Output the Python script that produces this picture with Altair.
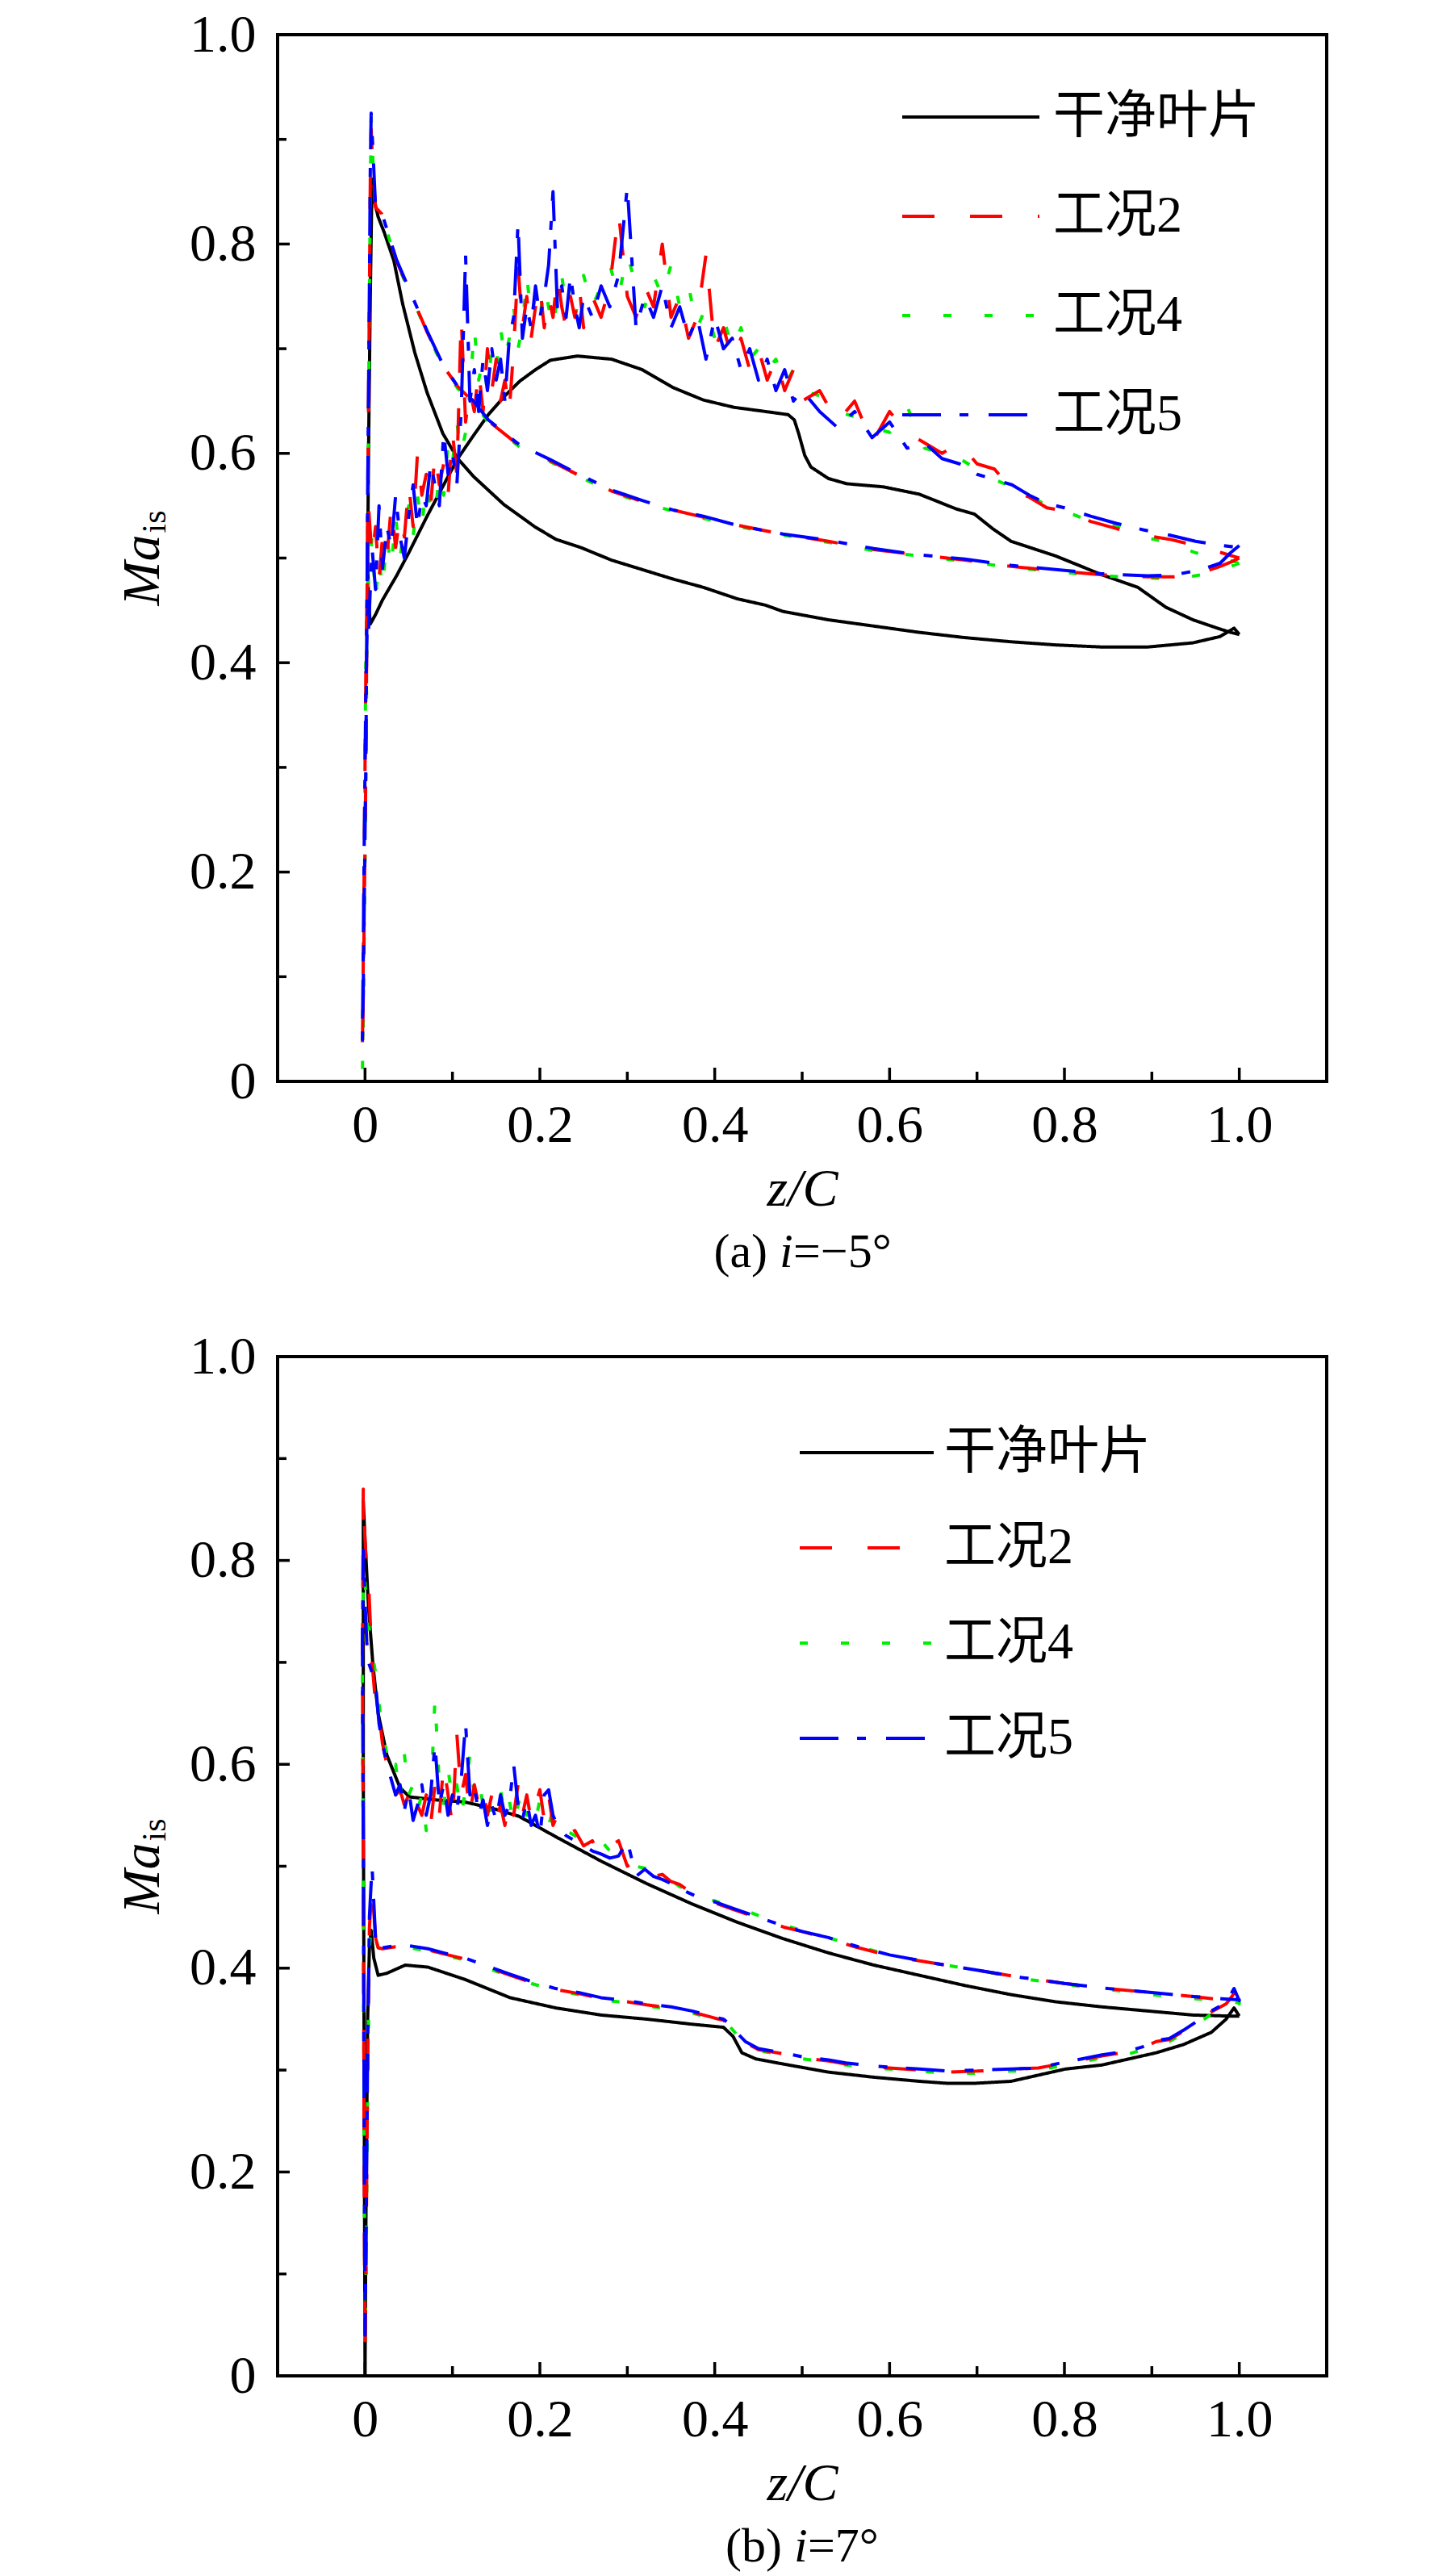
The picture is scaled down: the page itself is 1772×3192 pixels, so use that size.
import altair as alt
import pandas as pd

SERIES = ["干净叶片", "工况2", "工况4", "工况5"]
COLORS = ["#000000", "#ff0000", "#00ee00", "#0000ff"]
DASHES = [[1, 0], [40, 44], [10, 41], [48, 23, 11, 25]]
DRAW_ORDER = ["干净叶片", "工况4", "工况2", "工况5"]

X_MAJOR = [0.0, 0.2, 0.4, 0.6, 0.8, 1.0]
X_MINOR = [0.1, 0.3, 0.5, 0.7, 0.9]
Y_MAJOR = [0.0, 0.2, 0.4, 0.6, 0.8, 1.0]
Y_MINOR = [0.1, 0.3, 0.5, 0.7, 0.9]

# ---------------- panel (a) i = -5 deg ----------------
A_BLACK_X = [1.0, 0.994, 0.978, 0.947, 0.895, 0.843, 0.79, 0.739, 0.686, 0.634,
             0.582, 0.53, 0.478, 0.458, 0.426, 0.387, 0.352, 0.317, 0.282, 0.247,
             0.218, 0.194, 0.159, 0.124, 0.106, 0.089, 0.071, 0.057, 0.043, 0.033,
             0.022, 0.015, 0.011, 0.008, 0.006, 0.004, 0.003, 0.004, 0.006, 0.012,
             0.02, 0.036, 0.05, 0.071, 0.09, 0.106, 0.124, 0.141, 0.16, 0.177,
             0.195, 0.212, 0.243, 0.282, 0.317, 0.352, 0.387, 0.422, 0.458, 0.484,
             0.491, 0.496, 0.503, 0.51, 0.53, 0.551, 0.593, 0.634, 0.676, 0.697,
             0.718, 0.739, 0.79, 0.843, 0.884, 0.916, 0.947, 0.975, 0.99, 1.0]
A_BLACK_Y = [0.427, 0.433, 0.425, 0.419, 0.415, 0.415, 0.417, 0.420, 0.424, 0.429,
             0.435, 0.441, 0.449, 0.455, 0.461, 0.472, 0.480, 0.489, 0.498, 0.510,
             0.518, 0.530, 0.551, 0.578, 0.595, 0.619, 0.658, 0.696, 0.743, 0.784,
             0.811, 0.826, 0.840, 0.862, 0.75, 0.60, 0.498, 0.46, 0.437, 0.446,
             0.46, 0.483, 0.505, 0.54, 0.57, 0.595, 0.617, 0.637, 0.655, 0.669,
             0.680, 0.689, 0.693, 0.690, 0.680, 0.663, 0.651, 0.644, 0.640, 0.637,
             0.632, 0.619, 0.598, 0.587, 0.576, 0.571, 0.568, 0.561, 0.547, 0.542,
             0.528, 0.516, 0.502, 0.484, 0.472, 0.453, 0.441, 0.433, 0.429, 0.427]

A_SMOOTH_X = [1.0, 0.99, 0.978, 0.957, 0.926, 0.895, 0.843, 0.79, 0.739, 0.686,
              0.634, 0.582, 0.53, 0.478, 0.458, 0.422, 0.387, 0.352, 0.317, 0.282,
              0.247, 0.212, 0.177, 0.141, 0.124, 0.106, 0.089, 0.071, 0.054, 0.036,
              0.019, 0.012]
A_SMOOTH_RED = [0.500, 0.496, 0.492, 0.486, 0.482, 0.482, 0.484, 0.488, 0.492, 0.498,
                0.503, 0.508, 0.516, 0.523, 0.526, 0.532, 0.539, 0.546, 0.554, 0.564,
                0.578, 0.593, 0.607, 0.631, 0.649, 0.664, 0.684, 0.716, 0.749, 0.784,
                0.829, 0.835]
A_SMOOTH_GREEN = [0.495, 0.492, 0.488, 0.484, 0.480, 0.481, 0.483, 0.487, 0.491, 0.497,
                  0.502, 0.507, 0.515, 0.522, 0.525, 0.531, 0.538, 0.545, 0.553, 0.563,
                  0.577, 0.592, 0.606, 0.630, 0.648, 0.662, 0.683, 0.715, 0.748, 0.783,
                  0.828, 0.834]
A_SMOOTH_BLUE = [0.512, 0.505, 0.495, 0.489, 0.484, 0.483, 0.485, 0.489, 0.493, 0.499,
                 0.503, 0.509, 0.517, 0.523, 0.526, 0.532, 0.540, 0.546, 0.555, 0.565,
                 0.579, 0.594, 0.608, 0.632, 0.650, 0.664, 0.685, 0.717, 0.750, 0.785,
                 0.830, 0.836]

A_LE_X = [0.009, 0.007, 0.006, 0.005, 0.003, 0.001, -0.002, -0.003, -0.001, 0.001, 0.003]
A_LE_RED = [0.87, 0.91, 0.86, 0.75, 0.55, 0.30, 0.08, 0.03, 0.20, 0.40, 0.50]
A_LE_GREEN = [0.88, 0.92, 0.85, 0.74, 0.53, 0.28, 0.06, 0.01, 0.18, 0.42, 0.47]
A_LE_BLUE = [0.89, 0.925, 0.87, 0.76, 0.56, 0.31, 0.09, 0.04, 0.22, 0.38, 0.45]

A_NOISY_X = [0.004, 0.008, 0.012, 0.016, 0.020, 0.025, 0.030, 0.035, 0.040, 0.045,
             0.050, 0.055, 0.060, 0.065, 0.070, 0.075, 0.080, 0.085, 0.090, 0.095,
             0.100, 0.105, 0.110, 0.115, 0.120, 0.125, 0.130, 0.135, 0.140, 0.145,
             0.150, 0.155, 0.160, 0.165, 0.170, 0.175, 0.180, 0.185, 0.190, 0.195,
             0.200, 0.205, 0.210, 0.215, 0.220, 0.225, 0.230, 0.235, 0.240, 0.245,
             0.250, 0.260, 0.270, 0.280, 0.290, 0.300, 0.310, 0.320, 0.330, 0.340,
             0.350, 0.360, 0.370, 0.380, 0.390, 0.400, 0.410, 0.420, 0.430, 0.440,
             0.450, 0.460, 0.470, 0.480, 0.490, 0.500, 0.520, 0.540, 0.560, 0.580,
             0.600, 0.620, 0.640, 0.660, 0.680, 0.700, 0.720, 0.740, 0.760, 0.780,
             0.800, 0.830, 0.860, 0.890, 0.920, 0.950, 0.980, 1.000]
A_NOISY_RED = [0.55, 0.50, 0.53, 0.48, 0.52, 0.50, 0.55, 0.51, 0.54, 0.52,
               0.57, 0.53, 0.60, 0.56, 0.58, 0.55, 0.60, 0.57, 0.59, 0.56,
               0.62, 0.58, 0.73, 0.63, 0.66, 0.64, 0.68, 0.64, 0.70, 0.66,
               0.69, 0.65, 0.67, 0.64, 0.70, 0.78, 0.72, 0.75, 0.71, 0.74,
               0.76, 0.72, 0.75, 0.73, 0.77, 0.74, 0.72, 0.75, 0.73, 0.76,
               0.72, 0.75, 0.73, 0.76, 0.83, 0.75, 0.73, 0.76, 0.74, 0.80,
               0.73, 0.75, 0.71, 0.73, 0.79, 0.70, 0.72, 0.69, 0.71, 0.68,
               0.70, 0.67, 0.69, 0.66, 0.68, 0.65, 0.66, 0.63, 0.65, 0.61,
               0.64, 0.62, 0.61, 0.60, 0.61, 0.59, 0.585, 0.565, 0.558, 0.548,
               0.545, 0.535, 0.528, 0.522, 0.518, 0.512, 0.505, 0.50]
A_NOISY_GREEN = [0.48, 0.52, 0.46, 0.50, 0.47, 0.52, 0.49, 0.54, 0.50, 0.53,
                 0.55, 0.52, 0.56, 0.53, 0.57, 0.55, 0.54, 0.58, 0.56, 0.61,
                 0.59, 0.63, 0.60, 0.62, 0.66, 0.72, 0.67, 0.69, 0.66, 0.70,
                 0.68, 0.72, 0.69, 0.71, 0.74, 0.70, 0.72, 0.77, 0.73, 0.75,
                 0.73, 0.76, 0.74, 0.72, 0.75, 0.77, 0.74, 0.76, 0.73, 0.75,
                 0.77, 0.74, 0.76, 0.78, 0.75, 0.79, 0.76, 0.74, 0.77, 0.75,
                 0.78, 0.74, 0.76, 0.72, 0.74, 0.71, 0.73, 0.70, 0.72, 0.69,
                 0.70, 0.68, 0.69, 0.665, 0.68, 0.66, 0.655, 0.64, 0.635, 0.625,
                 0.62, 0.645, 0.605, 0.60, 0.595, 0.585, 0.575, 0.568, 0.56, 0.55,
                 0.545, 0.535, 0.53, 0.52, 0.515, 0.505, 0.50, 0.495]
A_NOISY_BLUE = [0.43, 0.51, 0.47, 0.55, 0.49, 0.53, 0.51, 0.56, 0.52, 0.50,
                0.54, 0.57, 0.53, 0.56, 0.55, 0.59, 0.57, 0.55, 0.62, 0.58,
                0.60, 0.57, 0.64, 0.79, 0.65, 0.68, 0.64, 0.69, 0.66, 0.70,
                0.67, 0.69, 0.65, 0.71, 0.73, 0.82, 0.71, 0.74, 0.72, 0.76,
                0.73, 0.75, 0.78, 0.85, 0.74, 0.76, 0.73, 0.77, 0.74, 0.72,
                0.75, 0.73, 0.76, 0.74, 0.77, 0.855, 0.72, 0.75, 0.73, 0.76,
                0.72, 0.74, 0.71, 0.73, 0.69, 0.73, 0.70, 0.71, 0.68, 0.70,
                0.67, 0.69, 0.66, 0.68, 0.65, 0.66, 0.64, 0.625, 0.64, 0.615,
                0.63, 0.605, 0.61, 0.595, 0.59, 0.58, 0.575, 0.57, 0.56, 0.552,
                0.548, 0.54, 0.533, 0.527, 0.522, 0.516, 0.512, 0.51]

# ---------------- panel (b) i = 7 deg ----------------
B_BLACK_X = [1.0, 0.989, 0.947, 0.895, 0.843, 0.79, 0.739, 0.686, 0.634, 0.582,
             0.53, 0.478, 0.426, 0.374, 0.322, 0.27, 0.218, 0.176, 0.145, 0.114,
             0.082, 0.051, 0.04, 0.025, 0.015, 0.009, 0.004, 0.0, -0.002,
             -0.002, -0.001, 0.0, 0.001, 0.003, 0.005, 0.007, 0.01,
             0.015, 0.025, 0.046, 0.072, 0.114, 0.166, 0.218, 0.27, 0.322, 0.374,
             0.41, 0.421, 0.431, 0.447, 0.478, 0.53, 0.582, 0.634, 0.666, 0.697,
             0.739, 0.77, 0.801, 0.843, 0.874, 0.905, 0.936, 0.968, 0.985, 0.994,
             1.0]
B_BLACK_Y = [0.353, 0.353, 0.354, 0.358, 0.362, 0.367, 0.374, 0.383, 0.393, 0.403,
             0.415, 0.429, 0.445, 0.463, 0.483, 0.505, 0.529, 0.549, 0.557, 0.563,
             0.565, 0.568, 0.577, 0.609, 0.65, 0.698, 0.754, 0.82, 0.858,
             0.60, 0.30, 0.0, 0.15, 0.35, 0.42, 0.437, 0.41,
             0.393, 0.395, 0.403, 0.401, 0.389, 0.371, 0.361, 0.354, 0.35, 0.345,
             0.342, 0.333, 0.317, 0.311, 0.306, 0.298, 0.293, 0.289, 0.287, 0.287,
             0.289, 0.295, 0.301, 0.305, 0.311, 0.317, 0.325, 0.337, 0.35, 0.361,
             0.353]

B_LE_X = [0.012, 0.008, 0.005, 0.003, 0.001, 0.0, -0.001, -0.002, -0.003, -0.002, 0.0, 0.002]
B_LE_RED = [0.43, 0.48, 0.44, 0.30, 0.10, 0.02, 0.20, 0.50, 0.70, 0.87, 0.82, 0.79]
B_LE_GREEN = [0.43, 0.45, 0.42, 0.28, 0.08, 0.03, 0.22, 0.48, 0.68, 0.79, 0.78, 0.75]
B_LE_BLUE = [0.43, 0.50, 0.45, 0.32, 0.12, 0.04, 0.25, 0.52, 0.72, 0.81, 0.76, 0.72]

B_UPPER_X = [0.004, 0.008, 0.012, 0.016, 0.020, 0.025, 0.030, 0.035, 0.040, 0.045,
             0.050, 0.055, 0.060, 0.065, 0.070, 0.075, 0.080, 0.085, 0.090, 0.095,
             0.100, 0.105, 0.110, 0.115, 0.120, 0.125, 0.130, 0.135, 0.140, 0.145,
             0.150, 0.155, 0.160, 0.165, 0.170, 0.175, 0.180, 0.185, 0.190, 0.195,
             0.200, 0.205, 0.210, 0.215, 0.220, 0.230, 0.240, 0.250, 0.260, 0.270,
             0.280, 0.290, 0.300, 0.310, 0.320, 0.330, 0.340, 0.350, 0.360, 0.370,
             0.380, 0.390, 0.400, 0.420, 0.440, 0.460, 0.480, 0.500, 0.530, 0.560,
             0.600, 0.650, 0.700, 0.750, 0.800, 0.850, 0.900, 0.950, 0.980, 1.000]
B_UPPER_RED = [0.78, 0.70, 0.66, 0.65, 0.62, 0.60, 0.58, 0.57, 0.575, 0.56,
               0.57, 0.55, 0.56, 0.55, 0.57, 0.54, 0.58, 0.55, 0.60, 0.57,
               0.54, 0.63, 0.57, 0.59, 0.55, 0.58, 0.56, 0.575, 0.55, 0.57,
               0.545, 0.56, 0.54, 0.565, 0.55, 0.58, 0.55, 0.57, 0.545, 0.56,
               0.575, 0.545, 0.57, 0.54, 0.55, 0.53, 0.535, 0.52, 0.525, 0.51,
               0.52, 0.525, 0.50, 0.505, 0.495, 0.49, 0.492, 0.485, 0.482, 0.476,
               0.472, 0.466, 0.464, 0.458, 0.452, 0.446, 0.44, 0.436, 0.429, 0.421,
               0.412, 0.405, 0.398, 0.391, 0.385, 0.38, 0.376, 0.372, 0.369, 0.368]
B_UPPER_GREEN = [0.74, 0.71, 0.69, 0.66, 0.63, 0.61, 0.59, 0.60, 0.565, 0.61,
                 0.57, 0.58, 0.555, 0.57, 0.535, 0.56, 0.665, 0.58, 0.56, 0.595,
                 0.565, 0.58, 0.55, 0.575, 0.61, 0.57, 0.585, 0.56, 0.575, 0.55,
                 0.56, 0.575, 0.55, 0.565, 0.54, 0.56, 0.575, 0.55, 0.56, 0.545,
                 0.565, 0.55, 0.54, 0.555, 0.545, 0.535, 0.53, 0.525, 0.52, 0.525,
                 0.515, 0.51, 0.505, 0.50, 0.498, 0.494, 0.488, 0.486, 0.48, 0.478,
                 0.473, 0.468, 0.466, 0.46, 0.455, 0.448, 0.442, 0.437, 0.43, 0.422,
                 0.413, 0.405, 0.398, 0.39, 0.384, 0.379, 0.374, 0.37, 0.368, 0.366]
B_UPPER_BLUE = [0.70, 0.69, 0.68, 0.64, 0.62, 0.60, 0.585, 0.57, 0.58, 0.555,
                0.575, 0.545, 0.56, 0.58, 0.55, 0.57, 0.62, 0.56, 0.58, 0.55,
                0.57, 0.555, 0.585, 0.64, 0.57, 0.58, 0.55, 0.565, 0.54, 0.56,
                0.545, 0.57, 0.55, 0.56, 0.60, 0.56, 0.545, 0.565, 0.54, 0.55,
                0.53, 0.57, 0.575, 0.55, 0.54, 0.53, 0.525, 0.52, 0.515, 0.512,
                0.508, 0.51, 0.525, 0.49, 0.497, 0.49, 0.487, 0.483, 0.478, 0.474,
                0.47, 0.467, 0.465, 0.459, 0.453, 0.447, 0.441, 0.436, 0.43, 0.422,
                0.413, 0.405, 0.398, 0.391, 0.385, 0.38, 0.376, 0.372, 0.37, 0.369]

B_LOWER_X = [1.0, 0.994, 0.985, 0.968, 0.95, 0.936, 0.92, 0.905, 0.89, 0.874,
             0.843, 0.82, 0.801, 0.77, 0.739, 0.70, 0.666, 0.634, 0.60, 0.582,
             0.55, 0.53, 0.50, 0.478, 0.45, 0.435, 0.425, 0.417, 0.41, 0.40,
             0.374, 0.35, 0.322, 0.30, 0.27, 0.245, 0.218, 0.19, 0.166, 0.14,
             0.114, 0.09, 0.072, 0.05, 0.035, 0.02, 0.015, 0.012]
B_LOWER_RED = [0.367, 0.375, 0.365, 0.357, 0.346, 0.338, 0.33, 0.328, 0.322, 0.318,
               0.314, 0.31, 0.307, 0.302, 0.301, 0.299, 0.298, 0.3, 0.302, 0.303,
               0.306, 0.309, 0.312, 0.316, 0.32, 0.327, 0.336, 0.344, 0.349, 0.351,
               0.357, 0.361, 0.364, 0.367, 0.37, 0.375, 0.379, 0.386, 0.393, 0.401,
               0.409, 0.414, 0.418, 0.421, 0.421, 0.419, 0.42, 0.43]
B_LOWER_GREEN = [0.365, 0.37, 0.363, 0.355, 0.344, 0.336, 0.328, 0.326, 0.32, 0.316,
                 0.312, 0.308, 0.305, 0.3, 0.299, 0.297, 0.297, 0.299, 0.301, 0.302,
                 0.305, 0.308, 0.311, 0.315, 0.319, 0.326, 0.335, 0.343, 0.348, 0.35,
                 0.356, 0.36, 0.363, 0.366, 0.369, 0.374, 0.378, 0.385, 0.392, 0.4,
                 0.408, 0.413, 0.417, 0.42, 0.42, 0.418, 0.42, 0.43]
B_LOWER_BLUE = [0.368, 0.38, 0.366, 0.358, 0.347, 0.339, 0.331, 0.329, 0.323, 0.319,
                0.315, 0.311, 0.308, 0.302, 0.301, 0.3, 0.299, 0.301, 0.303, 0.304,
                0.307, 0.31, 0.313, 0.317, 0.321, 0.328, 0.337, 0.345, 0.35, 0.352,
                0.358, 0.362, 0.365, 0.368, 0.371, 0.376, 0.38, 0.387, 0.394, 0.402,
                0.41, 0.415, 0.419, 0.422, 0.422, 0.42, 0.421, 0.43]

SERIF = "Liberation Serif"
LEGEND_FONT = "'Liberation Serif', 'Noto Sans CJK SC', serif"
W = 1300
H_A = 1297
H_B = 1263


def rows(series, xs, ys):
    assert len(xs) == len(ys), (series, len(xs), len(ys))
    return [{"series": series, "idx": i, "x": a, "y": b} for i, (a, b) in enumerate(zip(xs, ys))]


def build_a():
    r = rows("干净叶片", A_BLACK_X, A_BLACK_Y)
    for name, sm, le, no in [("工况2", A_SMOOTH_RED, A_LE_RED, A_NOISY_RED),
                             ("工况4", A_SMOOTH_GREEN, A_LE_GREEN, A_NOISY_GREEN),
                             ("工况5", A_SMOOTH_BLUE, A_LE_BLUE, A_NOISY_BLUE)]:
        r += rows(name, A_SMOOTH_X + A_LE_X + A_NOISY_X, sm + le + no)
    return pd.DataFrame(r)


def build_b():
    r = rows("干净叶片", B_BLACK_X, B_BLACK_Y)
    for name, le, up, lo in [("工况2", B_LE_RED, B_UPPER_RED, B_LOWER_RED),
                             ("工况4", B_LE_GREEN, B_UPPER_GREEN, B_LOWER_GREEN),
                             ("工况5", B_LE_BLUE, B_UPPER_BLUE, B_LOWER_BLUE)]:
        r += rows(name, B_LE_X + B_UPPER_X + B_LOWER_X, le + up + lo)
    return pd.DataFrame(r)


LABEL_EXPR = "datum.value == 0 ? '0' : format(datum.value, '.1f')"


def text_layer(s, x, y, size, style="normal", align="left", angle=0):
    return alt.Chart(pd.DataFrame({"t": [s]})).mark_text(
        font=SERIF, fontSize=size, fontStyle=style, align=align, baseline="alphabetic",
        angle=angle, color="black"
    ).encode(text="t:N", x=alt.value(x), y=alt.value(y))


def panel(df, H, leg, cap_a, cap_c, cap_pos):
    leg_x, leg_y, sym_len, lab_off, row_pad = leg
    xenc = alt.X("x:Q", scale=alt.Scale(domain=[-0.1, 1.1], nice=False, zero=False),
                 axis=alt.Axis(values=X_MAJOR, labelExpr=LABEL_EXPR, title="z/C", grid=False,
                               ticks=False, domain=False, labelFont=SERIF, labelFontSize=66,
                               labelPadding=22, labelColor="black", titleFont=SERIF,
                               titleFontSize=66, titleFontStyle="italic", titleFontWeight="normal",
                               titlePadding=14, titleColor="black"))
    yenc = alt.Y("y:Q", scale=alt.Scale(domain=[0, 1], nice=False, zero=False),
                 axis=alt.Axis(values=Y_MAJOR, labelExpr=LABEL_EXPR, title=None, grid=False,
                               ticks=False, domain=False, labelFont=SERIF, labelFontSize=66,
                               labelPadding=27, labelColor="black"))
    legend = alt.Legend(title=None, orient="none", legendX=leg_x, legendY=leg_y,
                        symbolType="stroke", symbolSize=sym_len * sym_len, symbolStrokeWidth=4,
                        labelFont=LEGEND_FONT, labelFontSize=64, labelOffset=lab_off,
                        labelColor="black", rowPadding=row_pad, padding=0, labelLimit=0)
    color = alt.Color("series:N", scale=alt.Scale(domain=SERIES, range=COLORS), legend=legend)
    dash = alt.StrokeDash("series:N", scale=alt.Scale(domain=SERIES, range=DASHES), legend=legend)
    layers = []
    for s in DRAW_ORDER:
        layers.append(alt.Chart(df).transform_filter(alt.datum.series == s)
                      .mark_line(strokeWidth=4, strokeCap="butt", strokeJoin="round")
                      .encode(x=xenc, y=yenc, color=color, strokeDash=dash, order="idx:Q"))
    xt_major = alt.Chart(pd.DataFrame({"x": X_MAJOR})).mark_rule(color="black", strokeWidth=3.5).encode(
        x=xenc, y=alt.value(H), y2=alt.value(H - 17))
    xt_minor = alt.Chart(pd.DataFrame({"x": X_MINOR})).mark_rule(color="black", strokeWidth=3.5).encode(
        x=xenc, y=alt.value(H), y2=alt.value(H - 12))
    yt_major = alt.Chart(pd.DataFrame({"y": Y_MAJOR})).mark_rule(color="black", strokeWidth=3.5).encode(
        y=yenc, x=alt.value(0), x2=alt.value(15))
    yt_minor = alt.Chart(pd.DataFrame({"y": Y_MINOR})).mark_rule(color="black", strokeWidth=3.5).encode(
        y=yenc, x=alt.value(0), x2=alt.value(11))
    mid = H / 2
    cap_y = H + 230
    texts = [
        text_layer("Ma", -147, mid + 59, 66, style="italic", align="left", angle=270),
        text_layer("is", -139, mid - 31, 42, align="left", angle=270),
        text_layer(cap_a, cap_pos[0], cap_y, 60, align="right"),
        text_layer("i", cap_pos[1], cap_y, 60, style="italic", align="left"),
        text_layer(cap_c, cap_pos[2], cap_y, 60, align="left"),
    ]
    return alt.layer(*layers, xt_major, xt_minor, yt_major, yt_minor, *texts).properties(width=W, height=H)


top = panel(build_a(), H_A, (772, 15, 170, 15, 4), "(a)", "=−5°", (607, 622, 639))
bottom = panel(build_b(), H_B, (645, 34, 166, 11, 1), "(b)", "=7°", (625, 640, 657))

chart = alt.vconcat(top, bottom, spacing=62).resolve_scale(
    color="independent", strokeDash="independent"
).resolve_legend(
    color="independent", strokeDash="independent"
).properties(
    padding={"left": 134, "top": 0, "right": 10, "bottom": 0},
    background="white",
).configure_view(stroke="black", strokeWidth=4).configure_legend(orient="none")

chart.save("out.html", embed_options={"renderer": "svg", "actions": False})
